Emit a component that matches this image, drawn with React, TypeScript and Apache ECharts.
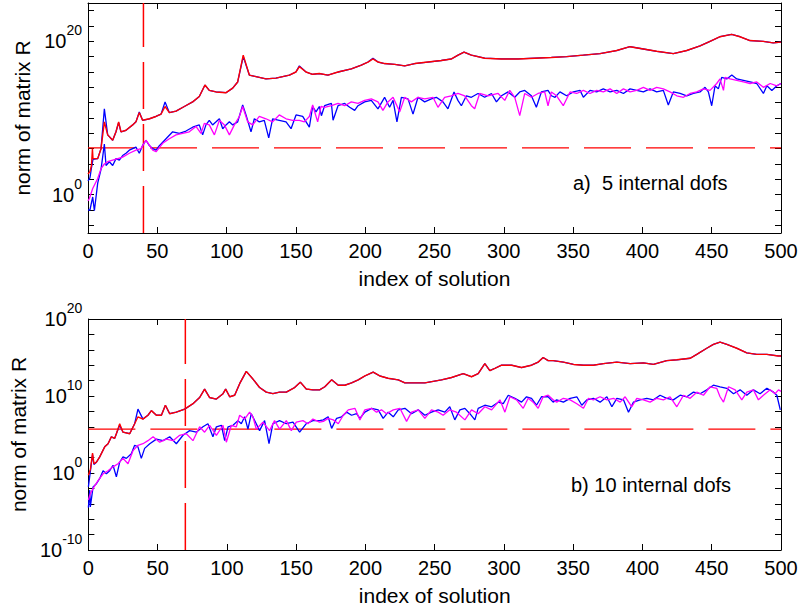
import React, { useEffect, useRef } from "react";
import * as echarts from "echarts";

// x: index of solution, y: log10(norm of matrix R)
const xTicks = [0, 50, 100, 150, 200, 250, 300, 350, 400, 450, 500];
const topYTicks = [-4, -2, 0, 2, 4, 6, 8, 10, 12, 14, 16, 18, 20, 22, 24];
const topYLabels = [0, 20];
const topYRange = [-5, 25];
const botYTicks = [-8, -6, -4, -2, 0, 2, 4, 6, 8, 10, 12, 14, 16, 18];
const botYLabels = [-10, 0, 10, 20];
const botYRange = [-10, 20];

const topThreshold = 6.1;
const topMarker = 40;
const botThreshold = 5.7;
const botMarker = 70;

const topRedUpper = [
  [0, 2.7], [1.4, 3.0], [2.5, 3.8], [3.2, 6.0], [3.6, 4.7], [7, 4.7], [9.4, 6.0], [11.8, 9.5], [14.2, 7.8], [17.8, 7.1],
  [20.2, 8.2], [22.1, 9.5], [23.8, 8.2], [27.4, 8.4], [32.2, 9.1], [34.6, 9.5], [37, 10.7], [39.4, 9.7], [44.3, 9.9], [49, 10.2],
  [52.7, 10.5], [55.6, 11.5], [58.7, 10.7], [63.5, 10.9], [69.5, 11.5], [75.5, 12.1], [80.3, 12.8], [84.4, 14.3], [87.5, 13.6], [92.4, 13.4],
  [99.6, 13.3], [104.4, 13.9], [108, 14.7], [112, 18.2], [116.4, 15.6], [121.2, 15.4], [128.4, 15.1], [135.6, 15.2], [145.3, 15.6], [150, 16.0],
  [152.5, 16.7], [157.3, 16.0], [162, 15.7], [166.9, 15.8], [173.1, 15.6], [180.4, 16.0], [190, 16.4], [197.2, 16.9], [202, 17.3], [205.6, 17.7],
  [209.3, 17.3], [214, 17.1], [221.3, 17.0], [228.5, 16.8], [235.7, 17.1], [245.3, 17.3], [254.9, 17.5], [262.2, 17.7], [267, 18.2], [271.3, 18.6],
  [276.6, 18.2], [286.2, 17.8], [298.2, 17.7], [310.3, 17.7], [322.3, 17.8], [334.3, 17.9], [345.3, 18.0], [357.4, 18.2], [369.4, 18.4], [381.4, 18.8],
  [391, 19.3], [400.7, 19.0], [410.3, 18.7], [422.3, 18.4], [431.9, 18.8], [441.6, 19.4], [448.8, 20.0], [456, 20.6], [464.4, 20.9], [470.4, 20.6],
  [477.6, 20.1], [487.2, 20.0], [494.4, 19.8], [500, 19.9],
];

const topBlueUpper = [
  [0, 1.8], [1.4, 2.2], [2.5, 3.5], [3.6, 4.6], [7, 4.7], [9.4, 6.0], [11.8, 11.2], [14.2, 7.8], [17.8, 7.1],
  [20.2, 8.2], [22.1, 9.4], [23.8, 8.2], [27.4, 8.4], [32.2, 9.1], [34.6, 9.5], [37, 10.8], [39.4, 9.7], [44.3, 9.9], [49, 10.2],
  [52.7, 10.5], [55.6, 12.1], [58.7, 10.7], [63.5, 10.9], [69.5, 11.5], [75.5, 12.1], [80.3, 12.8], [84.4, 14.3], [87.5, 13.6], [92.4, 13.4],
  [99.6, 13.3], [104.4, 13.9], [108, 14.7], [112, 18.0], [116.4, 15.6], [121.2, 15.4], [128.4, 15.1], [135.6, 15.2], [145.3, 15.6], [150, 16.0],
  [152.5, 16.8], [157.3, 16.0], [162, 15.7], [166.9, 15.8], [173.1, 15.6], [180.4, 16.0], [190, 16.4], [197.2, 16.9], [202, 17.3], [205.6, 17.8],
  [209.3, 17.3], [214, 17.1], [221.3, 17.0], [228.5, 16.8], [235.7, 17.1], [245.3, 17.3], [254.9, 17.5], [262.2, 17.7], [267, 18.2], [271.3, 18.6],
  [276.6, 18.2], [286.2, 17.8], [298.2, 17.7], [310.3, 17.7], [322.3, 17.8], [334.3, 17.9], [345.3, 18.0], [357.4, 18.2], [369.4, 18.4], [381.4, 18.8],
  [391, 19.3], [400.7, 19.0], [410.3, 18.7], [422.3, 18.4], [431.9, 18.8], [441.6, 19.4], [448.8, 20.0], [456, 20.6], [464.4, 20.9], [470.4, 20.6],
  [477.6, 20.1], [487.2, 20.0], [494.4, 19.8], [500, 19.9],
];

const topBlueLower = [
  [0, -2.0], [1.4, -2.0], [3.4, -0.3], [4.6, -2.1], [7, 1.5], [9.4, 3.3], [11.8, 6.6], [13, 3.8], [15.4, 4.3], [17.8, 3.8],
  [20.2, 4.7], [22.6, 4.5], [25, 5.1], [27.4, 5.4], [29.8, 5.8], [32.2, 6.0], [34.6, 6.2], [37, 5.4], [39.4, 6.4], [41.8, 7.1],
  [44.3, 6.4], [46.7, 6.0], [49.1, 5.8], [51.5, 6.4], [56.3, 7.3], [61.1, 8.2], [65.9, 8.0], [70.7, 8.3], [75.5, 8.8], [80.3, 9.1],
  [82.7, 7.8], [85.1, 9.1], [87.5, 9.7], [89.9, 9.1], [92.4, 9.5], [94.8, 9.9], [97.2, 8.6], [99.6, 9.1], [102, 9.5], [104.4, 9.1],
  [108, 9.5], [111.6, 11.7], [114, 10.4], [117.6, 8.2], [120, 9.9], [123.6, 9.5], [127.2, 9.7], [130.4, 7.4], [133.2, 9.9], [138, 9.7],
  [142.9, 9.5], [146.5, 8.6], [150.1, 10.4], [154.9, 10.2], [159.7, 8.8], [162.1, 11.5], [164.5, 10.8], [166.9, 11.5], [168.4, 10.3], [170.7, 11.6],
  [175.6, 11.9], [176.8, 9.7], [180.4, 11.6], [185.2, 11.9], [188.8, 11.4], [192.4, 11.0], [194.8, 11.6], [199.6, 12.1], [204.4, 12.3], [209.2, 11.2],
  [214, 12.7], [217.6, 11.4], [220.1, 12.3], [222.9, 9.5], [226.1, 12.7], [230.9, 12.5], [234.5, 10.5], [238.1, 12.7], [242.9, 12.1], [247.7, 12.5],
  [251.3, 12.7], [256.1, 12.1], [259.7, 11.2], [264.1, 13.4], [266.9, 12.3], [269.4, 11.6], [273, 12.9], [276.6, 12.7], [281.4, 13.2], [286.2, 12.7],
  [291.1, 13.2], [294.7, 12.1], [298.3, 12.9], [303.1, 13.4], [307.9, 12.7], [311.5, 13.4], [315.1, 13.6], [319.9, 12.9], [323.5, 11.4], [327.1, 13.4],
  [331.9, 13.6], [334.3, 12.9], [337, 12.7], [340.5, 13.4], [345.3, 12.9], [350.2, 13.4], [355, 13.6], [357.4, 12.7], [362.2, 13.6], [367, 13.4],
  [371.8, 13.8], [376.7, 13.4], [381.5, 13.6], [386.3, 13.2], [391.1, 13.8], [395.9, 13.6], [400.7, 13.4], [405.5, 13.8], [410.3, 13.4], [415.1, 13.6],
  [418.7, 11.7], [422.3, 13.4], [427.2, 13.2], [432, 12.9], [436.8, 13.2], [441.6, 13.4], [445.2, 14.0], [447.6, 13.4], [450, 11.6], [452.4, 14.2],
  [454.8, 13.8], [457.2, 15.3], [460.9, 15.1], [464.5, 15.6], [468.1, 15.1], [472.9, 14.9], [477.7, 14.7], [482.5, 14.5], [487.3, 13.2], [489.8, 14.2],
  [493.4, 13.6], [497, 14.2], [500, 14.5],
];

const topMagentaLower = [
  [0, -0.8], [1, -0.5], [3.4, 0.8], [7, 2.1], [9.4, 3.4], [11.8, 4.0], [14.2, 4.3], [17.8, 4.5], [21.4, 4.7], [25, 4.9],
  [29.8, 5.4], [34.6, 5.8], [38.2, 6.0], [41.8, 7.1], [46.7, 5.8], [49.1, 5.6], [53.9, 6.7], [58.7, 7.3], [63.5, 7.8], [68.3, 8.0],
  [73.1, 8.2], [77.9, 8.9], [81.5, 8.0], [83.9, 9.3], [87.5, 9.1], [91.2, 7.8], [94.8, 9.7], [98.4, 9.1], [102, 7.8], [105.6, 9.1],
  [109.2, 10.2], [111.6, 11.5], [115.2, 9.5], [118.8, 9.1], [123.6, 10.2], [128.4, 9.9], [133.2, 9.5], [138, 10.4], [142.9, 9.9], [147.7, 9.7],
  [152.5, 9.7], [156.1, 9.5], [159.7, 10.2], [162.1, 11.7], [165.7, 9.5], [168.1, 11.5], [170.7, 11.4], [175.6, 11.6], [180.4, 11.9], [185.2, 11.6],
  [190, 12.1], [194.8, 11.9], [199.6, 12.3], [204.4, 12.5], [209.2, 12.1], [212.8, 11.0], [216.4, 12.1], [220.1, 12.7], [224.9, 10.8], [228.5, 12.7],
  [233.3, 12.1], [238.1, 12.7], [242.9, 12.5], [248.9, 12.7], [252.5, 11.4], [257.3, 12.7], [262.1, 12.9], [266.9, 13.2], [271.8, 12.9], [276.6, 11.6],
  [279, 11.2], [282.6, 13.2], [288.6, 12.9], [295.9, 13.2], [300.7, 12.3], [304.3, 13.6], [307.9, 12.7], [311.5, 10.3], [315.1, 13.2], [319.9, 12.7],
  [324.7, 13.2], [329.5, 13.4], [331.9, 11.6], [334.3, 13.4], [338.1, 12.9], [342.9, 11.6], [347.8, 13.4], [352.6, 13.2], [357.4, 13.6], [362.2, 13.2],
  [367, 13.6], [371.8, 13.4], [376.7, 13.8], [381.5, 13.2], [386.3, 13.8], [391.1, 13.4], [395.9, 13.6], [400.7, 14.0], [405.5, 13.6], [410.3, 14.0],
  [415.1, 13.8], [419.9, 13.4], [424.8, 12.9], [429.6, 12.7], [434.4, 13.2], [439.2, 13.4], [444, 13.8], [448.8, 13.6], [453.6, 14.5], [456, 15.1],
  [458.5, 13.6], [459.7, 15.3], [463.3, 15.1], [468.1, 14.9], [472.9, 14.7], [477.7, 14.5], [482.5, 14.7], [487.3, 14.0], [492.2, 14.5], [497, 14.2],
  [500, 14.5],
];

const botRedUpper = [
  [0, -0.3], [1.5, 0.5], [3, 2.6], [4, 1.2], [5.8, 1.4], [8.2, 2.1], [11.8, 3.4], [14.2, 3.8], [16.6, 4.7], [19, 4.5],
  [20.2, 5.1], [22.6, 6.4], [25, 5.3], [29.8, 5.1], [33.4, 6.4], [35.8, 7.3], [39.4, 7.0], [43, 7.5], [45.5, 8.1], [49.1, 7.5],
  [52.7, 7.5], [55.6, 8.8], [58.7, 7.7], [63.5, 7.9], [69.5, 8.3], [75.5, 9.0], [80.3, 9.8], [83.9, 10.9], [87.5, 9.8], [92.4, 9.6],
  [97.2, 10.3], [99.1, 10.9], [102, 9.9], [105.6, 10.1], [109.2, 11.6], [114, 13.2], [118.8, 12.2], [123.6, 11.1], [128.4, 10.5], [133.2, 10.3],
  [138, 10.5], [142.9, 10.5], [148.9, 11.1], [153, 11.8], [157.3, 10.9], [162.1, 10.8], [166.9, 10.8], [170.7, 11.2], [175.6, 12.1], [180.4, 11.4],
  [185.2, 11.4], [190, 11.7], [194.8, 12.1], [199.6, 12.6], [205.6, 13.1], [210.4, 12.6], [216.4, 12.3], [223.7, 12.1], [228.5, 11.7], [235.7, 11.7],
  [242.9, 11.7], [248.9, 11.9], [254.9, 12.1], [262.1, 12.4], [270.6, 12.9], [276.6, 12.5], [281.4, 12.9], [286.2, 14.2], [289.8, 13.3], [293.5, 13.6],
  [298.3, 14.0], [305.5, 14.0], [312.7, 13.7], [319.9, 14.0], [324.7, 14.4], [328.3, 15.0], [331.9, 14.6], [335.5, 14.6], [342.9, 14.4], [350.2, 14.1],
  [357.4, 14.0], [364.6, 14.0], [371.8, 14.2], [381.5, 14.4], [391.1, 14.2], [400.7, 14.3], [407.9, 14.1], [417.5, 14.6], [424.8, 14.7], [434.4, 14.9],
  [439.2, 15.4], [446.4, 16.2], [451.2, 16.7], [456, 17.0], [460.9, 16.7], [468.1, 16.2], [475.3, 15.6], [482.5, 15.4], [489.8, 15.4], [497.9, 15.2],
  [500, 15.2],
];

const botBlueUpper = [
  [0, -1.8], [1.5, 0.3], [3, 2.4], [4, 1.1], [5.8, 1.4], [8.2, 2.1], [11.8, 3.4], [14.2, 3.8], [16.6, 4.7], [19, 4.5],
  [20.2, 5.1], [22.6, 6.2], [25, 5.3], [29.8, 5.1], [33.4, 6.4], [35.8, 8.3], [39.4, 7.0], [43, 7.5], [45.5, 8.1], [49.1, 7.5],
  [52.7, 7.5], [55.6, 8.8], [58.7, 7.7], [63.5, 7.9], [69.5, 8.3], [75.5, 9.0], [80.3, 9.8], [83.9, 10.9], [87.5, 9.8], [92.4, 9.6],
  [97.2, 10.3], [99.1, 10.9], [102, 9.9], [105.6, 10.1], [109.2, 11.6], [114, 13.2], [118.8, 12.2], [123.6, 11.1], [128.4, 10.5], [133.2, 10.3],
  [138, 10.5], [142.9, 10.5], [148.9, 11.1], [153, 11.8], [157.3, 10.9], [162.1, 10.8], [166.9, 10.8], [170.7, 11.2], [175.6, 12.1], [180.4, 11.4],
  [185.2, 11.4], [190, 11.7], [194.8, 12.1], [199.6, 12.6], [205.6, 13.1], [210.4, 12.6], [216.4, 12.3], [223.7, 12.1], [228.5, 11.7], [235.7, 11.7],
  [242.9, 11.7], [248.9, 11.9], [254.9, 12.1], [262.1, 12.4], [270.6, 12.9], [276.6, 12.5], [281.4, 12.9], [286.2, 14.2], [289.8, 13.3], [293.5, 13.6],
  [298.3, 14.0], [305.5, 14.0], [312.7, 13.7], [319.9, 14.0], [324.7, 14.4], [328.3, 15.0], [331.9, 14.6], [335.5, 14.6], [342.9, 14.4], [350.2, 14.1],
  [357.4, 14.0], [364.6, 14.0], [371.8, 14.2], [381.5, 14.4], [391.1, 14.2], [400.7, 14.3], [407.9, 14.1], [417.5, 14.6], [424.8, 14.7], [434.4, 14.9],
  [439.2, 15.4], [446.4, 16.2], [451.2, 16.7], [456, 17.0], [460.9, 16.7], [468.1, 16.2], [475.3, 15.6], [482.5, 15.4], [489.8, 15.4], [497.9, 15.2],
  [500, 15.2],
];

const botBlueLower = [
  [0, -4.5], [1.0, -2.2], [1.4, -4.4], [3.4, -1.8], [5.8, -1.4], [8.2, -0.7], [10.6, 0.3], [13, -0.1], [15.4, 0.3], [17.8, 1.0],
  [20.2, -0.5], [22.6, 1.4], [25, 2.1], [27.4, 1.9], [31, 2.5], [33.4, 3.6], [35.8, 3.4], [38.2, 1.9], [40.6, 3.2], [44.3, 3.8],
  [49.1, 4.4], [53.9, 4.2], [58.7, 4.7], [63.5, 3.8], [68.3, 4.9], [73.1, 5.5], [77.9, 5.3], [82.7, 6.0], [86.3, 6.4], [89.9, 4.7],
  [92.4, 6.0], [96, 6.2], [98.4, 4.2], [100.8, 6.0], [104.4, 6.2], [108, 6.8], [110.4, 6.4], [112.8, 7.3], [115.2, 5.7], [117.6, 7.7],
  [121.2, 6.4], [123.6, 5.5], [127.2, 6.8], [130.4, 3.8], [133.2, 6.4], [138, 6.8], [142.9, 6.4], [147.7, 6.6], [152.5, 5.3], [157.3, 6.4],
  [162.1, 6.8], [166.9, 6.8], [169.6, 6.9], [173.1, 7.3], [175.6, 5.8], [179.2, 7.1], [182.8, 7.3], [186.4, 7.9], [190, 7.5], [193.6, 7.7],
  [196, 7.1], [199.6, 7.9], [204.4, 8.4], [209.2, 8.2], [212.8, 7.1], [216.4, 7.9], [220.1, 7.3], [223.7, 8.2], [228.5, 8.4], [233.3, 7.7],
  [238.1, 8.2], [242.9, 7.5], [247.7, 7.9], [252.5, 8.2], [257.3, 7.9], [260.9, 8.6], [264.5, 6.9], [268.2, 8.2], [271.8, 8.4], [275.4, 7.7],
  [279, 6.9], [281.4, 8.4], [286.2, 8.8], [291.1, 8.6], [295.9, 9.2], [299.5, 9.0], [303.1, 10.1], [307.9, 9.7], [312.7, 9.2], [316.3, 9.9],
  [319.9, 9.7], [323.5, 8.8], [327.1, 9.9], [331.9, 9.9], [335.5, 9.2], [338.1, 9.5], [342.9, 9.2], [347.8, 9.7], [352.6, 9.9], [356.2, 8.8],
  [359.8, 9.5], [364.6, 9.7], [369.4, 9.2], [374.3, 9.9], [377.9, 8.6], [381.5, 9.7], [386.3, 9.5], [389.9, 7.9], [393.5, 9.2], [398.3, 9.5],
  [403.1, 9.7], [407.9, 9.5], [412.7, 10.1], [417.5, 9.7], [422.3, 9.5], [427.2, 10.1], [432, 9.9], [436.8, 10.5], [441.6, 10.3], [446.4, 10.8],
  [451.2, 11.4], [456, 11.2], [460.9, 11.0], [465.7, 10.3], [470.5, 10.8], [475.3, 10.1], [480.1, 10.8], [484.9, 10.3], [489.8, 11.0], [494.6, 10.5],
  [497, 10.1], [499.5, 8.2],
];

const botMagentaLower = [
  [0, -3.5], [1.4, -2.7], [3.4, -2.0], [7, -1.0], [10.6, -0.1], [14.2, 0.3], [17.8, 0.8], [21.4, 1.2], [25, 1.9], [28.6, 1.2],
  [32.2, 2.9], [35.8, 3.6], [39.4, 3.8], [43, 4.2], [46.7, 4.7], [51.5, 4.0], [56.3, 4.4], [61.1, 4.2], [65.9, 4.9], [70.7, 5.1],
  [75.5, 4.2], [80.3, 6.0], [83.9, 5.3], [87.5, 6.2], [92.4, 4.9], [97.2, 6.2], [99.6, 4.0], [103.2, 6.2], [106.8, 6.0], [109.2, 7.5],
  [112.8, 7.0], [116.4, 7.9], [118.8, 7.3], [121.2, 5.7], [126, 6.6], [130.8, 5.5], [134.4, 6.8], [138, 5.7], [142.9, 6.8], [146.5, 5.5],
  [150.1, 6.6], [154.9, 6.8], [158.5, 6.4], [162.1, 7.0], [166.9, 6.6], [169.6, 6.7], [173.1, 7.1], [176.8, 6.9], [180.4, 6.4], [184, 7.5],
  [187.6, 8.2], [192.4, 8.4], [196, 6.9], [199.6, 8.2], [204.4, 8.4], [208, 7.9], [211.6, 8.2], [215.2, 7.7], [220.1, 8.2], [224.9, 8.4],
  [229.7, 6.7], [233.3, 7.9], [238.1, 8.2], [242.9, 7.1], [247.7, 8.2], [252.5, 7.9], [256.1, 7.5], [260.9, 8.2], [265.7, 7.9], [271.8, 6.9],
  [276.6, 8.2], [281.4, 7.7], [286.2, 8.6], [291.1, 8.2], [297.1, 9.5], [300.7, 7.9], [304.3, 9.9], [309.1, 9.5], [313.9, 8.4], [317.5, 9.7],
  [321.1, 9.2], [324.7, 8.4], [328.3, 9.9], [331.9, 10.1], [335.5, 9.5], [338.1, 9.2], [342.9, 9.7], [347.8, 9.5], [352.6, 9.0], [357.4, 8.4],
  [361, 9.7], [364.6, 9.5], [369.4, 9.9], [374.3, 9.5], [379.1, 9.7], [383.9, 9.2], [387.5, 9.9], [392.3, 8.6], [395.9, 9.7], [400.7, 9.5],
  [405.5, 9.2], [410.3, 9.7], [415.1, 9.5], [419.9, 9.9], [424.8, 8.6], [429.6, 10.1], [434.4, 9.7], [439.2, 10.5], [444, 10.1], [448.8, 11.2],
  [453.6, 11.0], [456, 9.9], [458.5, 9.2], [462.1, 11.2], [466.9, 10.8], [471.7, 9.5], [475.3, 10.5], [480.1, 10.8], [483.7, 9.5], [487.3, 10.1],
  [492.2, 10.8], [495.8, 10.3], [498.2, 10.8], [500, 10.6],
];

const FONT = '"Liberation Sans", Arial, Helvetica, sans-serif';
const RED = "#ff0000";
const BLUE = "#0000ff";
const MAGENTA = "#ff00ff";

function xAxes(gridIndex: number) {
  const base = {
    gridIndex,
    type: "value",
    min: xTicks[0],
    max: xTicks[xTicks.length - 1],
    interval: xTicks[1] - xTicks[0],
    splitLine: { show: false },
    axisLine: { show: true, onZero: false, lineStyle: { color: "#000", width: 1 } },
    axisTick: { show: true, inside: true, length: 6, lineStyle: { color: "#000", width: 1 } },
  };
  return [
    {
      ...base,
      position: "bottom",
      axisLabel: { show: true, color: "#000", fontSize: 20, fontFamily: FONT, margin: 8 },
      name: "index of solution",
      nameLocation: "middle",
      nameGap: 35,
      nameTextStyle: { color: "#000", fontSize: 21, fontFamily: FONT },
    },
    { ...base, position: "top", axisLabel: { show: false } },
  ];
}

function yAxes(gridIndex: number, range: number[], ticks: number[], labels: number[]) {
  const base = {
    gridIndex,
    type: "value",
    min: range[0],
    max: range[1],
    splitLine: { show: false },
    axisLine: { show: true, onZero: false, lineStyle: { color: "#000", width: 1 } },
    axisTick: { show: true, inside: true, length: 6, customValues: ticks, lineStyle: { color: "#000", width: 1 } },
  };
  return [
    {
      ...base,
      position: "left",
      axisLabel: {
        show: true,
        customValues: labels,
        margin: 6,
        formatter: (v: number) => `{b|10}{s|${v}}`,
        rich: {
          b: { fontSize: 20, lineHeight: 36, fontFamily: FONT, color: "#000" },
          s: { fontSize: 14, lineHeight: 12, verticalAlign: "top", fontFamily: FONT, color: "#000" },
        },
      },
      name: "norm of matrix R",
      nameLocation: "middle",
      nameGap: 54,
      nameTextStyle: { color: "#000", fontSize: 21, fontFamily: FONT },
    },
    { ...base, position: "right", axisLabel: { show: false } },
  ];
}

function line(data: number[][], color: string, xi: number, yi: number, width = 1.3, dashed = false) {
  return {
    type: "line",
    data,
    xAxisIndex: xi,
    yAxisIndex: yi,
    symbol: "none",
    showSymbol: false,
    silent: true,
    color,
    lineStyle: { color, width, type: dashed ? [47, 15] : "solid" },
    itemStyle: { color },
  };
}

// reference lines: horizontal threshold and vertical marker (drawn from data values)
function refLineSeries(threshold: number, marker: number, range: number[], xi: number, yi: number) {
  const x0 = xTicks[0];
  const x1 = xTicks[xTicks.length - 1];
  return [
    line([[x0, threshold], [x1, threshold]], RED, xi, yi, 1.3, true),
    line([[marker, range[0]], [marker, range[1]]], RED, xi, yi, 1.5, true),
  ];
}

export default function App() {
  const ref = useRef<HTMLDivElement>(null);
  useEffect(() => {
    if (!ref.current) return;
    const chart = echarts.init(ref.current, null, { renderer: "svg" });
    chart.setOption({
      animation: false,
      backgroundColor: "#fff",
      grid: [
        { left: 88, top: 3, width: 693, height: 230 },
        { left: 88, top: 319, width: 693, height: 231 },
      ],
      xAxis: [...xAxes(0), ...xAxes(1)],
      yAxis: [...yAxes(0, topYRange, topYTicks, topYLabels), ...yAxes(1, botYRange, botYTicks, botYLabels)],
      series: [
        ...refLineSeries(topThreshold, topMarker, topYRange, 0, 0),
        line(topBlueLower, BLUE, 0, 0),
        line(topMagentaLower, MAGENTA, 0, 0),
        line(topBlueUpper, BLUE, 0, 0),
        line(topRedUpper, RED, 0, 0, 1.4),
        ...refLineSeries(botThreshold, botMarker, botYRange, 2, 2),
        line(botBlueLower, BLUE, 2, 2),
        line(botMagentaLower, MAGENTA, 2, 2),
        line(botBlueUpper, BLUE, 2, 2),
        line(botRedUpper, RED, 2, 2, 1.4),
      ],
      graphic: [
        {
          type: "text",
          left: 573,
          top: 173,
          style: { text: "a)  5 internal dofs", fontSize: 20, fontFamily: FONT, fill: "#000" },
        },
        {
          type: "text",
          left: 571,
          top: 475,
          style: { text: "b) 10 internal dofs", fontSize: 20, fontFamily: FONT, fill: "#000" },
        },
      ],
    });
    return () => chart.dispose();
  }, []);
  return (
    <div
      ref={ref}
      style={{ position: "fixed", left: 0, top: 0, width: 801, height: 613, background: "#fff" }}
    />
  );
}
